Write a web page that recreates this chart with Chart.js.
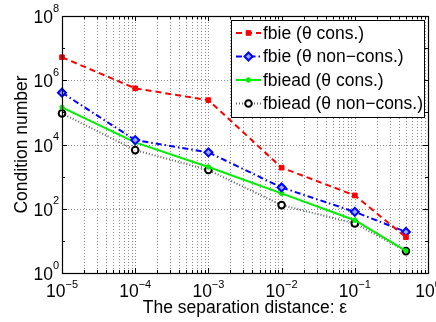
<!DOCTYPE html>
<html><head><meta charset="utf-8">
<script src="https://cdn.jsdelivr.net/npm/chart.js@4.4.1/dist/chart.umd.min.js"></script>
<style>html,body{margin:0;padding:0;background:#fff}#wrap{width:436px;height:322px}</style>
</head><body><div id="wrap"><canvas id="c" width="436" height="322"></canvas></div>
<script>
const separations = [1e-5, 1e-4, 1e-3, 1e-2, 1e-1, 0.5];
const fbieCons = [5.2e6, 5.6e5, 2.4e5, 1.9e3, 2.6e2, 13];
const fbieNonCons = [4.1e5, 1.37e4, 5.7e3, 4.6e2, 80, 19];
const fbieadCons = [1.43e5, 1.16e4, 2.0e3, 300, 44, 4.9];
const fbieadNonCons = [9.3e4, 6.7e3, 1.6e3, 130, 35, 4.8];
const seriesLabels = ['fbie (\u03b8 cons.)', 'fbie (\u03b8 non\u2212cons.)', 'fbiead (\u03b8 cons.)', 'fbiead (\u03b8 non\u2212cons.)'];
const xTickExponents = [-5, -4, -3, -2, -1, 0];
const yTickExponents = [0, 2, 4, 6, 8];
const xTitle = 'The separation distance: \u03b5';
const yTitle = 'Condition number';

const FONT = '"Liberation Sans", Arial, Helvetica, sans-serif';
const TXT = '17.5px ' + FONT;
const SUP = '11px ' + FONT;

const xTicks = [];
xTickExponents.forEach((e, i) => {
  if (i < xTickExponents.length - 1) { for (let s = 1; s < 10; s++) xTicks.push(s * Math.pow(10, e)); }
  else xTicks.push(Math.pow(10, e));
});
const yTicks = yTickExponents.map(e => Math.pow(10, e));
const yMinor = [];
for (let e = yTickExponents[0]; e <= yTickExponents[yTickExponents.length - 1]; e++) yMinor.push(Math.pow(10, e));

function pts(arr) { return arr.map((v, i) => ({x: separations[i], y: v})); }

const GRAYLINE = 'rgba(70,70,70,0.85)';
const datasets = [
  {label: seriesLabels[0], data: pts(fbieCons), borderColor: '#ff0000', backgroundColor: '#ff0000', borderWidth: 2,
   borderDash: [6, 4], pointStyle: 'rect', pointRadius: 3.3, pointBorderWidth: 1, clip: false},
  {label: seriesLabels[1], data: pts(fbieNonCons), borderColor: '#0000ff', backgroundColor: '#9aa8ff', borderWidth: 2,
   borderDash: [6, 3, 1.5, 3], pointStyle: 'rectRot', pointRadius: 4, pointBorderWidth: 2, clip: false},
  {label: seriesLabels[2], data: pts(fbieadCons), borderColor: '#00ee00', backgroundColor: '#00ee00', borderWidth: 2,
   borderDash: [], pointStyle: 'circle', pointRadius: 2.2, pointBorderWidth: 1, clip: false},
  {label: seriesLabels[3], data: pts(fbieadNonCons), borderColor: '#000000', backgroundColor: '#ffffff', borderWidth: 2,
   borderDash: [1, 2], pointStyle: 'circle', pointRadius: 3.3, pointBorderWidth: 2, clip: false,
   segment: {borderColor: () => GRAYLINE}}
];

function sup(n) { return n < 0 ? '\u2212' + Math.abs(n) : String(n); }

const decor = {
  id: 'decor',
  beforeDatasetsDraw(chart) {
    const {ctx, chartArea: a, scales: {x, y}} = chart;
    ctx.save();
    ctx.strokeStyle = 'rgba(0,0,0,0.45)';
    ctx.lineWidth = 1;
    ctx.setLineDash([1, 2]);
    xTicks.forEach(v => {
      const px = Math.round(x.getPixelForValue(v)) + 0.5;
      if (px <= a.left + 1 || px >= a.right - 1) return;
      ctx.beginPath(); ctx.moveTo(px, a.top); ctx.lineTo(px, a.bottom); ctx.stroke();
    });
    yTicks.forEach(v => {
      const py = Math.round(y.getPixelForValue(v)) + 0.5;
      if (py <= a.top + 1 || py >= a.bottom - 1) return;
      ctx.beginPath(); ctx.moveTo(a.left, py); ctx.lineTo(a.right, py); ctx.stroke();
    });
    ctx.restore();
  },
  afterDatasetsDraw(chart) {
    const {ctx, chartArea: a, scales: {x, y}} = chart;
    ctx.save();
    ctx.strokeStyle = '#000';
    ctx.lineWidth = 1;
    ctx.setLineDash([]);
    xTicks.forEach(v => {
      const px = Math.round(x.getPixelForValue(v)) + 0.5;
      const major = Math.abs(Math.log10(v) - Math.round(Math.log10(v))) < 1e-9;
      const L = major ? 5 : 3;
      ctx.beginPath();
      ctx.moveTo(px, a.bottom); ctx.lineTo(px, a.bottom - L);
      ctx.moveTo(px, a.top); ctx.lineTo(px, a.top + L);
      ctx.stroke();
    });
    yMinor.forEach(v => {
      const py = Math.round(y.getPixelForValue(v)) + 0.5;
      const major = yTicks.indexOf(v) >= 0;
      const L = major ? 5 : 3;
      ctx.beginPath();
      ctx.moveTo(a.left, py); ctx.lineTo(a.left + L, py);
      ctx.moveTo(a.right, py); ctx.lineTo(a.right - L, py);
      ctx.stroke();
    });
    ctx.lineWidth = 1.2;
    ctx.strokeRect(Math.round(a.left) + 0.5, Math.round(a.top) + 0.5, Math.round(a.right - a.left), Math.round(a.bottom - a.top));
    ctx.restore();
  },
  afterDraw(chart) {
    const {ctx, chartArea: a, scales: {x, y}} = chart;
    ctx.save();
    ctx.fillStyle = '#000';
    ctx.textBaseline = 'alphabetic';
    ctx.textAlign = 'left';
    xTickExponents.forEach(e => {
      const px = x.getPixelForValue(Math.pow(10, e));
      ctx.font = TXT;
      const w1 = ctx.measureText('10').width;
      ctx.font = SUP;
      const w2 = ctx.measureText(sup(e)).width;
      const start = px - (w1 + w2) / 2;
      ctx.font = TXT;
      ctx.fillText('10', start, a.bottom + 24);
      ctx.font = SUP;
      ctx.fillText(sup(e), start + w1, a.bottom + 14.5);
    });
    yTickExponents.forEach(e => {
      const py = y.getPixelForValue(Math.pow(10, e));
      ctx.font = SUP;
      const w2 = ctx.measureText(sup(e)).width;
      const right = a.left - 3;
      ctx.fillText(sup(e), right - w2, py - 4.5);
      ctx.font = TXT;
      const w1 = ctx.measureText('10').width;
      ctx.fillText('10', right - w2 - w1, py + 7);
    });
    ctx.font = TXT;
    ctx.textAlign = 'center';
    ctx.fillText(xTitle, (a.left + a.right) / 2, 313);
    ctx.save();
    ctx.translate(26.5, (a.top + a.bottom) / 2);
    ctx.rotate(-Math.PI / 2);
    ctx.fillText(yTitle, 0, 0);
    ctx.restore();
    // legend
    const lx = 231.5, ly = 20.5, lw = 193, lh = 97;
    ctx.fillStyle = '#fff';
    ctx.fillRect(lx, ly, lw, lh);
    ctx.strokeStyle = '#000';
    ctx.lineWidth = 1;
    ctx.strokeRect(lx, ly, lw, lh);
    const rows = [33, 56.5, 80, 103.5];
    chart.data.datasets.forEach((ds, i) => {
      const cy = rows[i];
      ctx.save();
      ctx.strokeStyle = i === 3 ? GRAYLINE : ds.borderColor;
      ctx.lineWidth = ds.borderWidth;
      ctx.setLineDash(ds.borderDash || []);
      ctx.beginPath(); ctx.moveTo(236, cy); ctx.lineTo(261, cy); ctx.stroke();
      ctx.setLineDash([]);
      ctx.fillStyle = ds.backgroundColor; ctx.strokeStyle = ds.borderColor; ctx.lineWidth = ds.pointBorderWidth;
      Chart.helpers.drawPoint(ctx, {pointStyle: ds.pointStyle, radius: ds.pointRadius, borderWidth: ds.pointBorderWidth, rotation: 0}, 248.5, cy);
      ctx.restore();
      ctx.fillStyle = '#000';
      ctx.font = TXT;
      ctx.textAlign = 'left';
      ctx.textBaseline = 'middle';
      ctx.fillText(ds.label, 263, cy + 1);
    });
    ctx.restore();
  }
};

new Chart(document.getElementById('c'), {
  type: 'line',
  data: {datasets},
  options: {
    responsive: false,
    animation: false,
    devicePixelRatio: 1,
    layout: {padding: {left: 62, right: 8, top: 16, bottom: 49}},
    plugins: {legend: {display: false}, tooltip: {enabled: false}},
    scales: {
      x: {type: 'logarithmic', min: 1e-5, max: 1, position: 'bottom',
          afterBuildTicks: s => { s.ticks = xTicks.map(v => ({value: v})); },
          ticks: {display: false}, grid: {display: false, drawTicks: false}, border: {display: false}},
      y: {type: 'logarithmic', min: 1, max: 1e8,
          afterBuildTicks: s => { s.ticks = yTicks.map(v => ({value: v})); },
          ticks: {display: false}, grid: {display: false, drawTicks: false}, border: {display: false}}
    }
  },
  plugins: [decor]
});
</script></body></html>
